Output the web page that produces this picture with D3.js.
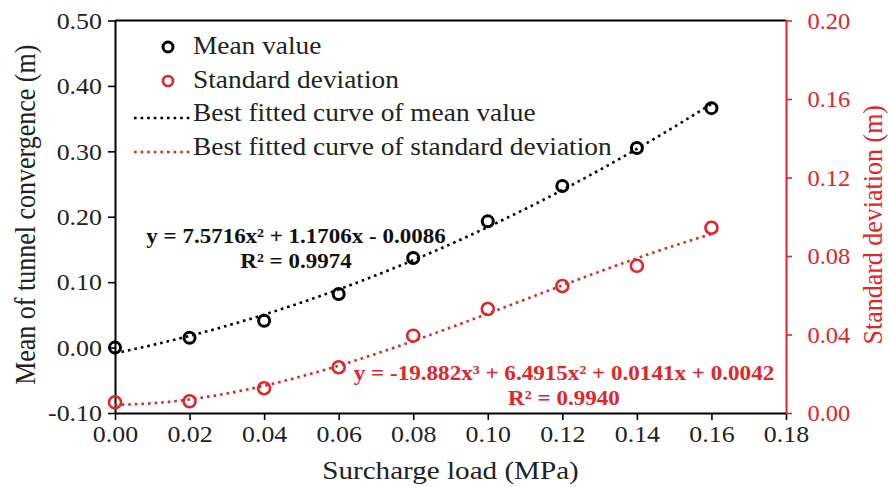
<!DOCTYPE html>
<html lang="en">
<head>
    <meta charset="UTF-8">
    <title>Tunnel convergence vs surcharge load</title>
    <script src="https://d3js.org/d3.v7.min.js"></script>
    <style>
        body {
            margin: 0;
            padding: 0;
            background: #fff;
        }
        svg text {
            font-family: "Liberation Serif", "Times New Roman", serif;
        }
        .fit {
            fill: none;
            stroke-width: 2.6;
            stroke-dasharray: 2.6 4;
        }
    </style>
</head>
<body>
    <script>
        // surcharge load (MPa)
        const loads = [0, 0.02, 0.04, 0.06, 0.08, 0.10, 0.12, 0.14, 0.16];
        // mean of tunnel convergence (m), left axis
        const meanValues = [0.000, 0.015, 0.041, 0.082, 0.137, 0.193, 0.247, 0.305, 0.366];
        // standard deviation (m), right axis
        const stdValues = [0.0054, 0.0060, 0.0126, 0.0233, 0.0394, 0.0530, 0.0647, 0.0750, 0.0944];

        // fitted polynomial coefficients as printed on the chart (c0 + c1 x + c2 x^2 + ...)
        const meanFitCoef = [-0.0086, 1.1706, 7.5716];
        const stdFitCoef = [0.0042, 0.0141, 6.4915, -19.882];

        const xTicks = [0, 0.02, 0.04, 0.06, 0.08, 0.10, 0.12, 0.14, 0.16, 0.18];
        const leftTicks = [-0.1, 0, 0.1, 0.2, 0.3, 0.4, 0.5];
        const rightTicks = [0, 0.04, 0.08, 0.12, 0.16, 0.20];

        const red = '#e3242b';
        const width = 888, height = 487;
        const margin = { top: 20.5, right: 102, bottom: 74, left: 115 };

        // the original figure is a little wider than tall, so text is stretched sideways
        const tickStretch = 1.08;

        const svg = d3.select('body').append('svg')
            .attr('width', width)
            .attr('height', height);

        const x = d3.scaleLinear().domain([0, 0.18]).range([margin.left, width - margin.right]);
        const yL = d3.scaleLinear().domain([-0.1, 0.5]).range([height - margin.bottom, margin.top]);
        const yR = d3.scaleLinear().domain([0, 0.2]).range([height - margin.bottom, margin.top]);

        const fmt = d => d.toFixed(2);

        // text placed at (tx, ty) with a horizontal stretch
        function addText(parent, tx, ty, str, sx, anchor) {
            return parent.append('text')
                .attr('transform', `translate(${tx},${ty}) scale(${sx},1)`)
                .attr('text-anchor', anchor || 'start')
                .text(str);
        }

        // top border
        svg.append('line')
            .attr('x1', x(0)).attr('x2', x(0.18))
            .attr('y1', yL(0.5)).attr('y2', yL(0.5))
            .attr('stroke', '#000').attr('stroke-width', 2);

        const xAxis = svg.append('g')
            .attr('transform', `translate(0,${yL(-0.1)})`)
            .call(d3.axisBottom(x).tickValues(xTicks).tickFormat(fmt).tickSize(7).tickSizeOuter(0));

        const leftAxis = svg.append('g')
            .attr('transform', `translate(${x(0)},0)`)
            .call(d3.axisLeft(yL).tickValues(leftTicks).tickFormat(fmt).tickSize(7).tickSizeOuter(0));

        const rightAxis = svg.append('g')
            .attr('transform', `translate(${x(0.18)},0)`)
            .call(d3.axisRight(yR).tickValues(rightTicks).tickFormat(fmt).tickSize(6).tickSizeOuter(0));

        [xAxis, leftAxis].forEach(g => {
            g.select('.domain').attr('stroke', '#000').attr('stroke-width', 2);
            g.selectAll('.tick line').attr('stroke', '#000').attr('stroke-width', 1.6);
            g.selectAll('.tick text').attr('fill', '#222').style('font-size', '24px')
                .attr('transform', `scale(${tickStretch},1)`);
        });
        rightAxis.select('.domain').attr('stroke', red).attr('stroke-width', 2);
        rightAxis.selectAll('.tick line').attr('stroke', red).attr('stroke-width', 1.6);
        rightAxis.selectAll('.tick text').attr('fill', red).style('font-size', '24px')
            .attr('transform', 'scale(1.02,1)')
            .attr('x', 21);

        xAxis.selectAll('.tick text').attr('y', 12);
        leftAxis.selectAll('.tick text').attr('x', -13 / tickStretch);

        // axis titles
        addText(svg, (x(0) + x(0.18)) / 2, 479, 'Surcharge load (MPa)', 1.12, 'middle')
            .attr('fill', '#222')
            .style('font-size', '26px');

        svg.append('text')
            .attr('transform', `translate(35,${(yL(0.5) + yL(-0.1)) / 2 - 2}) rotate(-90) scale(1,1.1)`)
            .attr('text-anchor', 'middle')
            .attr('fill', '#222')
            .style('font-size', '26px')
            .text('Mean of tunnel convergence (m)');

        svg.append('text')
            .attr('transform', `translate(882,${(yR(0) + yR(0.2)) / 2 + 8}) rotate(-90) scale(1,1.05)`)
            .attr('text-anchor', 'middle')
            .attr('fill', red)
            .style('font-size', '26px')
            .text('Standard deviation (m)');

        // fitted curves
        const poly = (c, v) => c.reduce((s, k, i) => s + k * Math.pow(v, i), 0);
        const fitX = d3.range(0, 0.1601, 0.002);

        svg.append('path')
            .attr('class', 'fit')
            .attr('stroke', '#000')
            .attr('d', d3.line().x(d => x(d)).y(d => yL(poly(meanFitCoef, d)))(fitX));

        svg.append('path')
            .attr('class', 'fit')
            .attr('stroke', red)
            .attr('d', d3.line().x(d => x(d)).y(d => yR(poly(stdFitCoef, d)))(fitX));

        // points
        svg.append('g').selectAll('circle')
            .data(loads)
            .join('circle')
            .attr('cx', d => x(d))
            .attr('cy', (d, i) => yL(meanValues[i]))
            .attr('r', 5.5)
            .attr('fill', 'none')
            .attr('stroke', '#000')
            .attr('stroke-width', 3);

        svg.append('g').selectAll('circle')
            .data(loads)
            .join('circle')
            .attr('cx', d => x(d))
            .attr('cy', (d, i) => yR(stdValues[i]))
            .attr('r', 6)
            .attr('fill', 'none')
            .attr('stroke', red)
            .attr('stroke-width', 2.6);

        // equations
        const eq = svg.append('g').style('font-weight', 'bold').style('font-size', '22px');
        addText(eq, 296, 243, 'y = 7.5716x² + 1.1706x - 0.0086', 1.045, 'middle').attr('fill', '#111');
        addText(eq, 296, 268, 'R² = 0.9974', 1.045, 'middle').attr('fill', '#111');
        addText(eq, 564, 380, 'y = -19.882x³ + 6.4915x² + 0.0141x + 0.0042', 1.05, 'middle').attr('fill', red);
        addText(eq, 564, 405, 'R² = 0.9940', 1.05, 'middle').attr('fill', red);

        // legend
        const legend = svg.append('g').style('font-size', '25px').attr('fill', '#222');
        legend.append('circle').attr('cx', 168).attr('cy', 47).attr('r', 5)
            .attr('fill', 'none').attr('stroke', '#000').attr('stroke-width', 3);
        legend.append('circle').attr('cx', 168).attr('cy', 81).attr('r', 5)
            .attr('fill', 'none').attr('stroke', red).attr('stroke-width', 2.6);
        legend.append('line').attr('class', 'fit').attr('stroke', '#000')
            .attr('x1', 134).attr('x2', 192).attr('y1', 118).attr('y2', 118);
        legend.append('line').attr('class', 'fit').attr('stroke', red)
            .attr('x1', 134).attr('x2', 192).attr('y1', 152).attr('y2', 152);
        addText(legend, 193, 54, 'Mean value', 1.095);
        addText(legend, 193, 88, 'Standard deviation', 1.095);
        addText(legend, 193, 121, 'Best fitted curve of mean value', 1.095);
        addText(legend, 193, 155, 'Best fitted curve of standard deviation', 1.095);
    </script>
</body>
</html>
